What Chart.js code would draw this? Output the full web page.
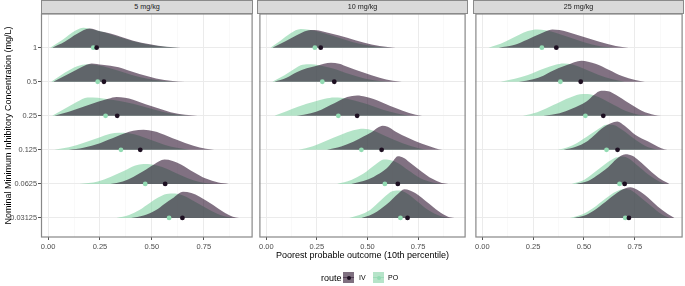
<!DOCTYPE html>
<html>
<head>
<meta charset="utf-8">
<script src="https://cdn.jsdelivr.net/npm/chart.js@4.4.1/dist/chart.umd.min.js"></script>
<style>
  body { margin: 0; background: #fff; font-family: "Liberation Sans", Arial, sans-serif; }
  #wrap { position: relative; width: 685px; height: 286px; overflow: hidden; }
  canvas { position: absolute; top: 0; }
  .strip { position: absolute; top: 0; height: 14px; background: #d9d9d9; border: 1px solid #8a8a8a; box-sizing: border-box;
           font-size: 7.2px; color: #1a1a1a; text-align: center; line-height: 12px; }
  .leg { position: absolute; white-space: nowrap; color: #000; }
  .key { position: absolute; width: 11px; height: 11px; }
  .key i { position: absolute; left: 3.5px; top: 3.5px; width: 4px; height: 4px; border-radius: 50%; }
  .key b { position: absolute; left: 0; right: 0; top: 5px; height: 1px; }
</style>
</head>
<body>
<div id="wrap">
  <canvas id="p1" width="255" height="286" style="left:0px;width:255px;height:286px"></canvas>
  <canvas id="p2" width="211" height="286" style="left:257px;width:211px;height:286px"></canvas>
  <canvas id="p3" width="212" height="286" style="left:473px;width:212px;height:286px"></canvas>

  <div class="strip" style="left:41px;width:212px">5 mg/kg</div>
  <div class="strip" style="left:257px;width:211px">10 mg/kg</div>
  <div class="strip" style="left:473px;width:211px">25 mg/kg</div>

  <div class="leg" style="left:321px;top:272px;font-size:9px;line-height:12px">route</div>
  <div class="key" style="left:343px;top:272px;background:#7f7080"><b style="background:rgba(30,5,35,0.45)"></b><i style="background:#1d0f21"></i></div>
  <div class="leg" style="left:359px;top:273px;font-size:7px;line-height:10px">IV</div>
  <div class="key" style="left:373px;top:272px;background:#b6e4c9"><b style="background:rgba(120,205,160,0.4)"></b><i style="background:#93dbb3"></i></div>
  <div class="leg" style="left:388px;top:273px;font-size:7px;line-height:10px">PO</div>
</div>

<script>
// facets, rows, routes
const doses = ["5 mg/kg", "10 mg/kg", "25 mg/kg"];
const micLabels = ["1", "0.5", "0.25", "0.125", "0.0625", "0.03125"];
const routes = ["IV", "PO"];

// density curves per MIC row (top to bottom): [outcome, density]
const iv5 = [
  [[0.02,0],[0.08,6],[0.14,14],[0.2,19.3],[0.25,16.5],[0.3,14.3],[0.35,11],[0.41,7],[0.49,3.5],[0.57,1],[0.64,0]],
  [[0.025,0],[0.1,8],[0.16,14.5],[0.21,18.3],[0.26,17],[0.3,16],[0.34,14.5],[0.38,11.7],[0.44,7.7],[0.52,3.3],[0.6,0.7],[0.66,0]],
  [[0.03,0],[0.1,4],[0.17,9],[0.24,14],[0.29,17],[0.33,18.7],[0.37,18],[0.41,16],[0.47,11.5],[0.53,7.5],[0.59,3.5],[0.66,1],[0.72,0]],
  [[0.1,0],[0.17,2],[0.25,6.7],[0.33,13.3],[0.41,19],[0.46,20],[0.51,18.5],[0.54,16.7],[0.62,10],[0.7,4],[0.76,1],[0.8,0]],
  [[0.3,0],[0.36,2.5],[0.41,7],[0.46,12.8],[0.51,19.5],[0.56,24.3],[0.6,23],[0.64,19.5],[0.7,12],[0.76,5.3],[0.82,1.3],[0.87,0]],
  [[0.4,0],[0.46,2.5],[0.52,8],[0.56,14],[0.6,19.7],[0.65,26.3],[0.69,25],[0.73,21.3],[0.795,13],[0.843,6.3],[0.89,1.3],[0.92,0]]
];
const po5 = [
  [[0.01,0],[0.07,8],[0.13,17],[0.17,20],[0.22,18],[0.27,15.5],[0.33,11.5],[0.4,7],[0.48,3.3],[0.56,1],[0.63,0]],
  [[0.015,0],[0.08,9],[0.14,15.5],[0.19,17.5],[0.24,16.5],[0.29,14],[0.34,11],[0.4,7],[0.48,3],[0.56,0.8],[0.63,0]],
  [[0.02,0],[0.08,7],[0.14,14],[0.19,18.3],[0.24,18],[0.29,16.5],[0.34,15],[0.41,12],[0.48,8],[0.55,4],[0.62,1.3],[0.68,0]],
  [[0.03,0],[0.1,2.5],[0.18,7.5],[0.25,12.5],[0.3,16],[0.34,17],[0.39,16.5],[0.44,14],[0.5,9.5],[0.56,5],[0.62,2],[0.68,0]],
  [[0.15,0],[0.24,2.5],[0.3,7],[0.37,13.5],[0.42,18.5],[0.46,20],[0.5,19.5],[0.55,17],[0.61,11.5],[0.67,6],[0.73,2],[0.8,0]],
  [[0.33,0],[0.39,3],[0.44,8],[0.49,15],[0.53,20.5],[0.57,24],[0.61,24.5],[0.65,22.5],[0.71,16],[0.77,9],[0.83,3],[0.89,0]]
];
const iv10 = [
  [[0.03,0],[0.09,6],[0.15,12.5],[0.2,17],[0.24,17.7],[0.28,16.3],[0.32,14.3],[0.4,10],[0.48,5.3],[0.56,1.7],[0.64,0]],
  [[0.04,0],[0.1,4],[0.15,9.5],[0.2,13.5],[0.25,16],[0.32,19],[0.36,18],[0.4,15],[0.48,9.3],[0.56,4],[0.625,1],[0.67,0]],
  [[0.15,0],[0.22,2.5],[0.272,6],[0.32,11],[0.353,14.3],[0.4,18.7],[0.449,20.3],[0.49,19],[0.53,16.7],[0.61,10],[0.674,5],[0.738,1],[0.77,0]],
  [[0.3,0],[0.37,3.3],[0.43,8],[0.48,13.3],[0.52,17.5],[0.55,22],[0.575,24],[0.6,23],[0.64,18],[0.7,12],[0.77,6],[0.835,1.7],[0.87,0]],
  [[0.42,0],[0.48,3],[0.53,7],[0.594,15.3],[0.625,22.5],[0.65,27.7],[0.68,26],[0.706,22],[0.77,12],[0.818,5.3],[0.867,1],[0.9,0]],
  [[0.47,0],[0.51,2.5],[0.546,6.3],[0.61,16.3],[0.65,24],[0.682,28.7],[0.71,27.5],[0.738,24.7],[0.802,14.7],[0.85,7],[0.898,1.3],[0.93,0]]
];
const po10 = [
  [[0.02,0],[0.07,7],[0.12,14.5],[0.17,18.7],[0.21,18],[0.26,16],[0.32,12.5],[0.39,8],[0.46,4],[0.54,1.2],[0.62,0]],
  [[0.03,0],[0.09,6.5],[0.14,13],[0.18,17],[0.22,17.5],[0.26,16.5],[0.33,13.3],[0.41,7.7],[0.49,3],[0.56,0.8],[0.62,0]],
  [[0.04,0],[0.1,4.5],[0.16,9.3],[0.24,14.3],[0.29,17],[0.336,18.3],[0.37,18],[0.4,17],[0.48,12.7],[0.577,6],[0.658,1.7],[0.71,0]],
  [[0.16,0],[0.23,3.5],[0.288,8.3],[0.369,15],[0.43,19.5],[0.48,21],[0.53,19],[0.594,13.3],[0.674,6.7],[0.754,1.7],[0.8,0]],
  [[0.35,0],[0.42,4],[0.481,10.3],[0.546,20.3],[0.58,24.3],[0.61,24],[0.65,21],[0.7,14],[0.76,6],[0.82,1.5],[0.86,0]],
  [[0.41,0],[0.46,3],[0.513,8],[0.577,19.7],[0.626,27],[0.66,27.5],[0.7,24],[0.75,16],[0.8,8],[0.86,2],[0.9,0]]
];
const iv25 = [
  [[0.08,0],[0.16,3],[0.22,8],[0.288,14.3],[0.344,18.3],[0.38,17.7],[0.416,16],[0.496,11],[0.576,6],[0.656,1.7],[0.72,0]],
  [[0.18,0],[0.25,2.5],[0.3,6],[0.336,10],[0.416,16.7],[0.488,21],[0.52,20],[0.56,17.7],[0.624,11.7],[0.687,5.7],[0.752,1.7],[0.8,0]],
  [[0.3,0],[0.38,2.5],[0.44,7],[0.512,14.3],[0.55,21],[0.584,25],[0.62,24.5],[0.656,21],[0.72,12.7],[0.784,5],[0.848,0.7],[0.88,0]],
  [[0.4,0],[0.46,3],[0.512,8],[0.544,13.3],[0.6,23],[0.664,28.3],[0.7,24],[0.752,15],[0.816,8.3],[0.88,1.7],[0.91,0]],
  [[0.46,0],[0.52,3],[0.56,8],[0.62,17],[0.66,25],[0.704,29.7],[0.74,28],[0.768,23.7],[0.832,12],[0.88,4.3],[0.92,0]],
  [[0.45,0],[0.51,3],[0.56,9],[0.62,18.5],[0.68,27.5],[0.728,30.7],[0.76,28.5],[0.8,23],[0.864,11.3],[0.912,4],[0.945,0]]
];
const po25 = [
  [[0.03,0],[0.09,4],[0.144,9.3],[0.224,16.7],[0.27,18.3],[0.31,17.5],[0.36,15],[0.42,11],[0.5,5.5],[0.58,1.5],[0.65,0]],
  [[0.09,0],[0.16,3],[0.224,6.7],[0.304,13.3],[0.36,17],[0.4,18.3],[0.44,17.5],[0.5,13],[0.57,7],[0.64,2.5],[0.7,0]],
  [[0.2,0],[0.27,3.5],[0.352,11],[0.432,18.3],[0.496,21.7],[0.54,21],[0.59,17],[0.65,10.5],[0.71,4.5],[0.77,1],[0.82,0]],
  [[0.37,0],[0.42,2.5],[0.464,6.7],[0.528,15],[0.576,21.5],[0.61,25],[0.64,25],[0.68,21],[0.74,12],[0.8,4],[0.85,0.5],[0.87,0]],
  [[0.44,0],[0.5,4],[0.544,10.3],[0.608,20.3],[0.656,26.3],[0.69,27.5],[0.72,25.5],[0.76,19],[0.82,9],[0.87,2.5],[0.9,0]],
  [[0.43,0],[0.49,3.5],[0.544,9.7],[0.608,19.7],[0.656,26.3],[0.7,29],[0.73,28],[0.77,22],[0.83,12],[0.88,4],[0.92,0]]
];

// median points per MIC row (top to bottom)
const ivMed5 = [0.234, 0.269, 0.333, 0.444, 0.564, 0.647];
const poMed5 = [0.218, 0.239, 0.277, 0.351, 0.468, 0.583];
const ivMed10 = [0.269, 0.336, 0.449, 0.57, 0.65, 0.698];
const poMed10 = [0.24, 0.277, 0.356, 0.47, 0.586, 0.663];
const ivMed25 = [0.364, 0.484, 0.595, 0.665, 0.7, 0.721];
const poMed25 = [0.293, 0.384, 0.507, 0.611, 0.675, 0.703];

const xTicks = [0, 0.25, 0.5, 0.75];
const xMinor = [0.125, 0.375, 0.625, 0.875];

const HSCALE = 1 / 34.06;  // density units -> row spacing
const nRows = micLabels.length;
const colIV = "rgba(33,6,36,0.57)", colPO = "rgba(126,208,160,0.58)";
const ptIV = "#1d0f21", ptPO = "#93dbb3";

const isMajor = (v) => xTicks.some(t => Math.abs(t - v) < 1e-6);

function ridgeSets(iv, po, ivMed, poMed) {
  const sets = [];
  for (let r = 0; r < nRows; r++) {
    const base = nRows - r;
    const mk = (curve, color, order) => ({
      data: curve.map(([x, h]) => ({ x, y: base + h * HSCALE })),
      fill: { value: base }, backgroundColor: color, borderWidth: 0,
      pointRadius: 0, cubicInterpolationMode: "monotone", order
    });
    sets.push(mk(po[r], colPO, 2 * base + 1));
    sets.push(mk(iv[r], colIV, 2 * base));
  }
  const pts = (med, color, order) => ({
    data: med.map((x, r) => ({ x, y: nRows - r })),
    showLine: false, pointRadius: 2.4, pointHoverRadius: 2.4, borderWidth: 0,
    pointBackgroundColor: color, order
  });
  sets.push(pts(poMed, ptPO, 1));
  sets.push(pts(ivMed, ptIV, 0));
  return sets;
}

const panelBorder = {
  id: "panelBorder",
  afterDatasetsDraw(chart) {
    const { ctx, chartArea: a } = chart;
    ctx.save();
    ctx.strokeStyle = "#888";
    ctx.lineWidth = 1.2;
    ctx.strokeRect(a.left + 0.5, a.top, a.right - a.left - 1, a.bottom - a.top);
    ctx.restore();
  }
};

function makePanel(id, k, iv, po, ivMed, poMed, padRight) {
  const first = k === 0, middle = k === 1;
  return new Chart(document.getElementById(id), {
    type: "line",
    data: { datasets: ridgeSets(iv, po, ivMed, poMed) },
    options: {
      responsive: false, animation: false, events: [],
      layout: { padding: { top: 14, left: 0, right: padRight, bottom: 0 } },
      plugins: { legend: { display: false }, tooltip: { enabled: false } },
      scales: {
        x: {
          type: "linear", min: -0.034, max: 0.985,
          afterBuildTicks: (s) => { s.ticks = [...xTicks, ...xMinor].sort((a, b) => a - b).map(v => ({ value: v })); },
          afterFit: (s) => { s.height = 49; s.paddingLeft = 0; s.paddingRight = 0; },
          border: { display: false },
          grid: {
            color: (c) => isMajor(c.tick.value) ? "#ebebeb" : "#f5f5f5",
            lineWidth: (c) => isMajor(c.tick.value) ? 1 : 0.6,
            tickColor: (c) => isMajor(c.tick.value) ? "#555" : "rgba(0,0,0,0)",
            tickLength: 3
          },
          ticks: {
            autoSkip: false, maxRotation: 0, padding: 2, color: "#4d4d4d",
            font: { family: "Liberation Sans", size: 7.5 },
            callback: (v) => isMajor(v) ? v.toFixed(2) : ""
          },
          title: {
            display: middle, text: "Poorest probable outcome (10th percentile)", color: "#000",
            font: { family: "Liberation Sans", size: 9 }, padding: { top: 0, bottom: 25 }
          }
        },
        y: {
          type: "linear", min: 0.44, max: 6.99,
          afterBuildTicks: (s) => { s.ticks = micLabels.map((_, r) => ({ value: nRows - r })); },
          afterFit: (s) => { s.width = first ? 41 : 0; s.paddingTop = 0; s.paddingBottom = 0; },
          border: { display: false },
          grid: { color: "#ebebeb", lineWidth: 1, tickColor: "#555", tickLength: 3, drawTicks: first },
          ticks: {
            display: first, padding: 1, color: "#4d4d4d",
            font: { family: "Liberation Sans", size: 7.4 },
            callback: (v) => micLabels[nRows - v]
          },
          title: {
            display: first, text: "Nominal Minimum Inhibitory Concentration (mg/L)", color: "#000",
            font: { family: "Liberation Sans", size: 9 }, padding: { top: 3, bottom: 0 }
          }
        }
      }
    },
    plugins: [panelBorder]
  });
}

makePanel("p1", 0, iv5, po5, ivMed5, poMed5, 2);
makePanel("p2", 1, iv10, po10, ivMed10, poMed10, 0);
makePanel("p3", 2, iv25, po25, ivMed25, poMed25, 1);
</script>
</body>
</html>
